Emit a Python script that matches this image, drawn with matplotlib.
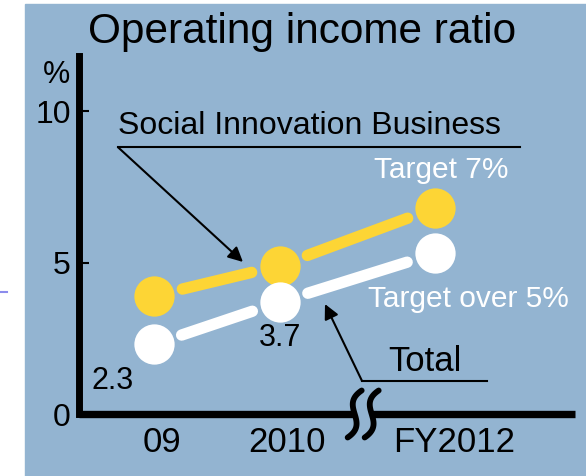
import matplotlib.pyplot as plt
import matplotlib.transforms as mtransforms
from matplotlib.lines import Line2D
import numpy as np

plt.rcParams['font.family'] = ['Liberation Sans', 'DejaVu Sans']

years = ['09', '2010', 'FY2012']
social_innovation = [3.9, 4.9, 6.8]
total = [2.3, 3.7, 5.3]
total_labels = ['2.3', '3.7']
yticks = [0, 5, 10]

# category positions along x (axis is broken between 2010 and FY2012)
xpos = np.array([0, 1, 2.23])
brk = 1.66

bg = '#93b4d1'
yellow = '#fdd535'

fig = plt.figure(figsize=(5.86, 4.76), dpi=100)
fig.patch.set_facecolor('white')
fig.add_artist(plt.Rectangle((25 / 586, 0), 1 - 25 / 586, 1 - 4 / 476,
                             transform=fig.transFigure, color=bg, zorder=0))
fig.add_artist(Line2D([0, 7 / 586], [1 - 292 / 476] * 2, color='#8c8cec', lw=1.5))

ax = fig.add_axes([79 / 586, 62 / 476, 496 / 586, 358 / 476])
ax.set_facecolor('none')
ax.set_xlim(-0.595, 3.341)
ax.set_ylim(0, 11.82)

for s in ['top', 'right', 'bottom']:
    ax.spines[s].set_visible(False)
ax.spines['left'].set_linewidth(5)
ax.set_xticks([])
ax.set_yticks(yticks)
ax.tick_params(axis='y', direction='in', length=7, width=1.5, pad=6, labelsize=23)

# x axis line with break marks
ax.plot([ax.get_xlim()[0], ax.get_xlim()[1]], [0, 0], color='k', lw=5.3,
        solid_capstyle='butt', clip_on=False, zorder=4)
tr = fig.dpi_scale_trans + mtransforms.ScaledTranslation(brk, 0, ax.transData)
s = np.linspace(-1, 1, 60)
sy = 0.235 * s
sx = 0.07 * (2 * s ** 3 - s)
ax.fill(np.r_[sx - 0.085, (sx + 0.085)[::-1]], np.r_[sy, sy[::-1]], color=bg,
        transform=tr, clip_on=False, zorder=5, lw=0)
for dx in (-0.085, 0.085):
    ax.plot(sx + dx, sy, color='k', lw=4.2, solid_capstyle='round',
            transform=tr, clip_on=False, zorder=6)

# series: connecting bars with gaps, then circles
for vals, color in ((social_innovation, yellow), (total, 'white')):
    for i in range(len(vals) - 1):
        ax.annotate('', xy=(xpos[i + 1], vals[i + 1]), xytext=(xpos[i], vals[i]),
                    arrowprops=dict(arrowstyle='-', color=color, lw=8.2,
                                    shrinkA=21, shrinkB=21))
    ax.plot(xpos, vals, 'o', ms=29, color=color, mec='none', zorder=3, clip_on=False)

# value labels for actuals
ax.annotate(total_labels[0], (xpos[0], total[0]), xytext=(-30, -32),
            textcoords='offset points', ha='center', va='baseline', fontsize=22)
ax.annotate(total_labels[1], (xpos[1], total[1]), xytext=(0, -31.5),
            textcoords='offset points', ha='center', va='baseline', fontsize=22)

# category labels
for x, lab, dx in zip(xpos, years, [6, 5, 14]):
    ax.annotate(lab, (x, 0), xytext=(dx, -27.5), textcoords='offset points',
                ha='center', va='baseline', fontsize=25, annotation_clip=False)

# callouts
ax.plot([-0.286, 2.905], [8.81, 8.81], color='k', lw=1.5)
ax.annotate('', xy=(0.706, 5.02), xytext=(-0.286, 8.81),
            arrowprops=dict(arrowstyle='-|>', color='k', lw=1.5, mutation_scale=22,
                            shrinkA=0, shrinkB=0))
ax.text(-0.286, 9.24, 'Social Innovation Business', fontsize=23, va='baseline')

ax.plot([1.651, 2.643], [1.09, 1.09], color='k', lw=1.5)
ax.annotate('', xy=(1.357, 3.63), xytext=(1.651, 1.09),
            arrowprops=dict(arrowstyle='-|>', color='k', lw=1.5, mutation_scale=22,
                            shrinkA=0, shrinkB=0))
ax.text(2.15, 1.42, 'Total', fontsize=25, ha='center', va='baseline')

ax.text(2.278, 7.79, 'Target 7%', fontsize=21.5, color='white', ha='center', va='baseline')
ax.text(1.698, 3.53, 'Target over 5%', fontsize=21.5, color='white', va='baseline')

ax.annotate('%', xy=(0, 1), xycoords='axes fraction', xytext=(-16, -13.7),
            textcoords='offset points', ha='center', va='center', fontsize=22)

fig.text(302 / 586, 1 - 43 / 476, 'Operating income ratio', ha='center',
         va='baseline', fontsize=30.5)

fig.savefig('out.png', dpi=100)
